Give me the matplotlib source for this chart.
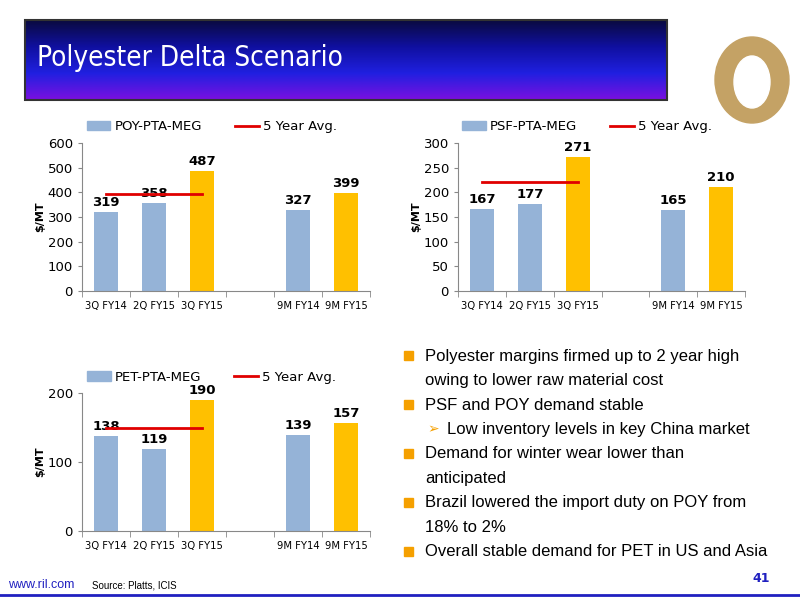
import matplotlib.pyplot as plt
from matplotlib.patches import Rectangle, Ellipse
from matplotlib.colors import LinearSegmentedColormap
import numpy as np

cats = ['3Q FY14', '2Q FY15', '3Q FY15', '', '9M FY14', '9M FY15']
poy = [319, 358, 487, None, 327, 399]
psf = [167, 177, 271, None, 165, 210]
pet = [138, 119, 190, None, 139, 157]
poy_avg = 395
psf_avg = 220
pet_avg = 150
bullets = [
    ('sq', 'Polyester margins firmed up to 2 year high\nowing to lower raw material cost'),
    ('sq', 'PSF and POY demand stable'),
    ('ar', 'Low inventory levels in key China market'),
    ('sq', 'Demand for winter wear lower than\nanticipated'),
    ('sq', 'Brazil lowered the import duty on POY from\n18% to 2%'),
    ('sq', 'Overall stable demand for PET in US and Asia'),
]

BLUE = '#95b3d7'
GOLD = '#ffc000'
W, H = 800, 600

fig = plt.figure(figsize=(8, 6), dpi=100)


def box(x0, y0, x1, y1):
    return [x0 / W, 1 - y1 / H, (x1 - x0) / W, (y1 - y0) / H]


def chart(rect, vals, avg, name, ymax, step):
    ax = fig.add_axes(box(*rect))
    x = np.arange(len(cats))
    hs = [v if v is not None else 0 for v in vals]
    cols = [GOLD if i in (2, 5) else BLUE for i in range(len(cats))]
    ax.bar(x, hs, width=0.5, color=cols, zorder=2)
    for i, v in enumerate(vals):
        if v is not None:
            ax.text(i, v + ymax * 0.02, str(v), ha='center', va='bottom',
                    fontsize=9.5, fontweight='bold', zorder=3)
    ax.plot([0, 2], [avg, avg], color='#e00000', lw=2, zorder=4)
    ax.set_xlim(-0.5, 5.5)
    ax.set_ylim(0, ymax)
    ax.set_yticks(np.arange(0, ymax + 1, step))
    ax.set_xticks(x)
    ax.set_xticklabels(cats, fontsize=8, family='DejaVu Sans', stretch='condensed')
    ax.set_xticks(np.arange(-0.5, 6, 1), minor=True)
    ax.tick_params(axis='x', which='major', length=0, pad=7)
    ax.tick_params(axis='x', which='minor', length=4, color='#888888')
    ax.tick_params(axis='y', labelsize=9.5, length=3, color='#888888')
    for s in ('top', 'right'):
        ax.spines[s].set_visible(False)
    ax.spines['left'].set_color('#888888')
    ax.spines['bottom'].set_color('#888888')
    ax.set_ylabel('$/MT', fontsize=8, fontweight='bold', labelpad=2)
    h1 = Rectangle((0, 0), 1, 1, color=BLUE)
    h2 = plt.Line2D([], [], color='#e00000', lw=2)
    ax.legend([h1, h2], [name, '5 Year Avg.'], loc='lower center',
              bbox_to_anchor=(0.45, 1.03), ncol=2, frameon=False, fontsize=9.5,
              handlelength=1.8, handletextpad=0.3, columnspacing=2.5,
              borderaxespad=0)


chart((82, 143, 370, 291), poy, poy_avg, 'POY-PTA-MEG', 600, 100)
chart((458, 143, 745, 291), psf, psf_avg, 'PSF-PTA-MEG', 300, 50)
chart((82, 393, 370, 531), pet, pet_avg, 'PET-PTA-MEG', 200, 100)

# title banner and decorations
bg = fig.add_axes([0, 0, 1, 1], zorder=-1)
bg.axis('off')
grad = np.linspace(0, 1, 100).reshape(-1, 1)
cmap = LinearSegmentedColormap.from_list('t', ['#0a0a40', '#1010a0', '#2020e0', '#7a10e0'])
bg.imshow(grad, cmap=cmap, extent=(25, 667, 100, 20), aspect='auto')
bg.add_patch(Rectangle((25, 20), 642, 80, fill=False, ec='#333333', lw=1.5))
bg.text(37, 58, 'Polyester Delta Scenario', color='white', fontsize=20,
        va='center', ha='left', family='DejaVu Sans', stretch='condensed')
bg.add_patch(Ellipse((752, 80), 74, 86, color='#c4a265'))
bg.add_patch(Ellipse((752, 82), 36, 52, color='white'))
bg.set_xlim(0, W)
bg.set_ylim(H, 0)

# bullets, one line every 24.5 px
y = 356
for kind, t in bullets:
    if kind == 'sq':
        bg.add_patch(Rectangle((404, y - 5), 9, 9, color='#f5a000'))
        tx = 425
    else:
        bg.text(427, y, '➢', fontsize=10, va='center', color='#f5a000')
        tx = 447
    for line in t.split('\n'):
        bg.text(tx, y, line, fontsize=12, va='center', family='Liberation Sans')
        y += 24.5

bg.text(8, 585, 'www.ril.com', color='#2020c0', fontsize=9, va='center',
        family='Liberation Sans')
bg.text(92, 586, 'Source: Platts, ICIS', fontsize=7, va='center',
        family='Liberation Sans')
bg.text(770, 578, '41', color='#2020c0', fontsize=9, fontweight='bold',
        ha='right', va='center')
bg.plot([0, 800], [595, 595], color='#2020c0', lw=2)

fig.savefig('out.png', dpi=100)
